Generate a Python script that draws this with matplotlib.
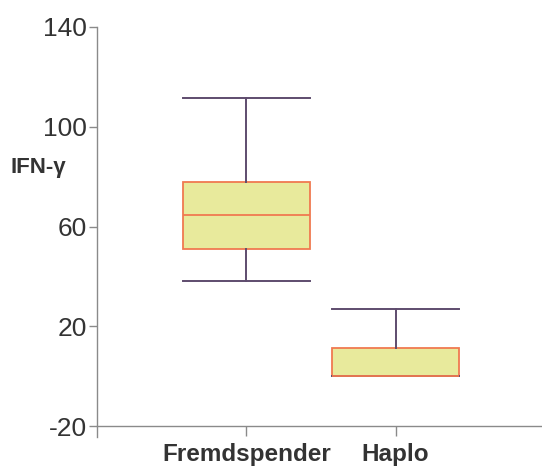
import matplotlib
matplotlib.use("Agg")
import matplotlib.pyplot as plt

plt.rcParams["font.family"] = ["Liberation Sans", "DejaVu Sans"]

# values
groups = ["Fremdspender", "Haplo"]
whisker_low = [38.3, 0.0]
q1 = [51.0, 0.0]
median = [64.7, 0.0]
q3 = [78.0, 11.3]
whisker_high = [111.5, 26.8]
yticks = [-20, 20, 60, 100, 140]

TEXT = "#333333"
AXIS = "#8a8a8a"
WHISK = "#5e4c6e"
BOX_FILL = "#e8ea9c"
BOX_EDGE = "#f07a50"

stats = []
for i, name in enumerate(groups):
    stats.append({
        "label": name,
        "whislo": whisker_low[i],
        "q1": q1[i],
        "med": median[i],
        "q3": q3[i],
        "whishi": whisker_high[i],
        "fliers": [],
    })

fig = plt.figure(figsize=(5.42, 4.66), dpi=100)
ax = fig.add_axes([97 / 542, 1 - 437 / 466, 1 - 97 / 542, (437 - 27) / 466])

ax.bxp(
    stats,
    positions=[1, 2],
    widths=0.85,
    capwidths=0.85,
    patch_artist=True,
    showfliers=False,
    boxprops=dict(facecolor=BOX_FILL, edgecolor=BOX_EDGE, linewidth=1.3),
    medianprops=dict(color=BOX_EDGE, linewidth=1.3),
    whiskerprops=dict(color=WHISK, linewidth=1.4),
    capprops=dict(color=WHISK, linewidth=1.4),
)

ax.set_xlim(0, 2.98)
ax.set_ylim(-24.4, 140)
ax.set_yticks(yticks)
ax.set_xticks([1, 2])

ax.spines["top"].set_visible(False)
ax.spines["right"].set_visible(False)
ax.spines["bottom"].set_position(("data", -20))
for s in ("left", "bottom"):
    ax.spines[s].set_color(AXIS)
    ax.spines[s].set_linewidth(1.0)
ax.tick_params(axis="y", colors=AXIS, labelcolor=TEXT, length=6, width=1.0,
               pad=1.5, labelsize=19)
ax.tick_params(axis="x", colors=AXIS, labelcolor=TEXT, length=7.5, width=1.0,
               pad=5, labelsize=17.5)

ax.set_yticklabels([str(v) for v in yticks])
ax.set_xticklabels(groups, fontweight="bold")

fig.text(11 / 542, 1 - 168 / 466, "IFN-\u03b3", fontsize=16, fontweight="bold",
         color=TEXT, ha="left", va="center")

fig.savefig("out.png", dpi=100)
